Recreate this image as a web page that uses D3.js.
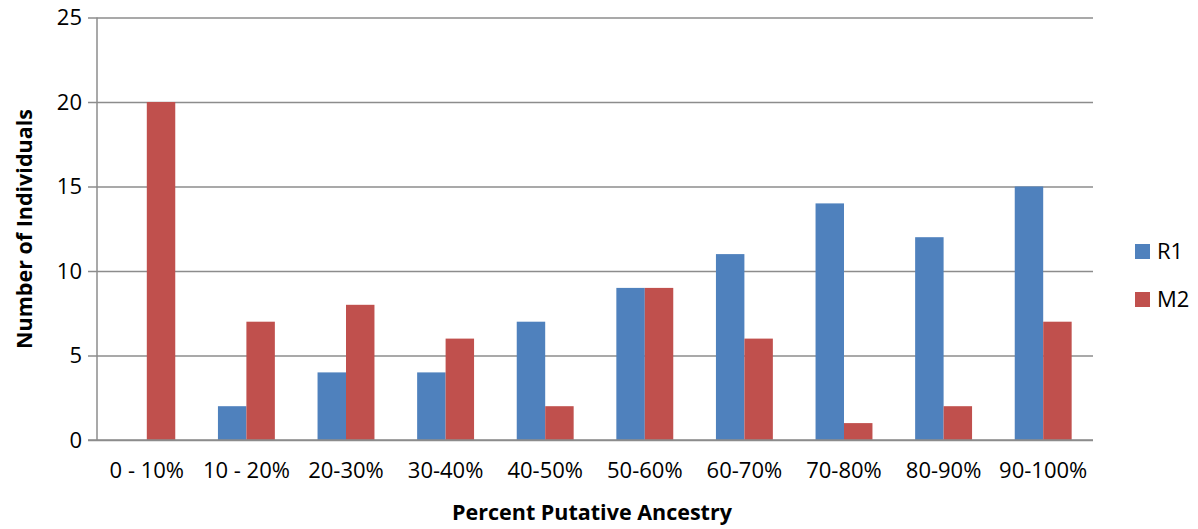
<!DOCTYPE html>
<html>
<head>
<meta charset="utf-8">
<script src="https://cdn.jsdelivr.net/npm/d3@7"></script>
<style>
  html, body { margin: 0; padding: 0; background: #fff; }
  svg { display: block; }
  text { font-family: "Open Sans", "Liberation Sans", sans-serif; fill: #000; }
</style>
</head>
<body>
<svg id="chart" width="1198" height="529"></svg>
<script>
// Ancestry bins and counts per population
const categories = ["0 - 10%", "10 - 20%", "20-30%", "30-40%", "40-50%", "50-60%", "60-70%", "70-80%", "80-90%", "90-100%"];
const seriesNames = ["R1", "M2"];
const r1Values = [0, 2, 4, 4, 7, 9, 11, 14, 12, 15];
const m2Values = [20, 7, 8, 6, 2, 9, 6, 1, 2, 7];
const yTicks = [0, 5, 10, 15, 20, 25];
const colors = ["#4F81BD", "#C0504D"];

const svg = d3.select("#chart");
const plot = { left: 97, right: 1093, top: 17.5, bottom: 440 };

const x = d3.scaleBand().domain(categories).range([plot.left, plot.right]).paddingInner(0).paddingOuter(0);
const xSub = d3.scaleBand().domain(seriesNames).range([0, x.bandwidth()]).paddingOuter(0.75).paddingInner(0);
const y = d3.scaleLinear().domain([0, 25]).range([plot.bottom, plot.top]);

const gridColor = "#8c8c8c";

// horizontal gridlines with left tick marks
const yAxis = d3.axisLeft(y).tickValues(yTicks).tickSize(-(plot.right - plot.left)).tickPadding(15);
const gy = svg.append("g").attr("transform", `translate(${plot.left},0)`).call(yAxis);
gy.select(".domain").remove();
gy.selectAll(".tick line").attr("stroke", gridColor).attr("stroke-width", 1.5).attr("x1", -9);
gy.selectAll(".tick text").attr("font-size", 22).attr("font-family", "Open Sans, Liberation Sans, sans-serif").attr("fill", "#000");

// vertical axis line
svg.append("line")
  .attr("x1", plot.left).attr("x2", plot.left)
  .attr("y1", y(25)).attr("y2", y(0))
  .attr("stroke", gridColor).attr("stroke-width", 1.5);

// bars
const rows = categories.map((c, i) => ({ cat: c, vals: [r1Values[i], m2Values[i]] }));
const groups = svg.append("g").selectAll("g").data(rows).join("g")
  .attr("transform", d => `translate(${x(d.cat)},0)`);
groups.selectAll("rect")
  .data(d => d.vals.map((v, k) => ({ name: seriesNames[k], v, k })))
  .join("rect")
  .attr("x", d => xSub(d.name))
  .attr("width", xSub.bandwidth())
  .attr("y", d => y(d.v))
  .attr("height", d => y(0) - y(d.v))
  .attr("fill", d => colors[d.k]);

// redraw baseline over bars
svg.append("line")
  .attr("x1", plot.left - 9).attr("x2", plot.right)
  .attr("y1", y(0)).attr("y2", y(0))
  .attr("stroke", gridColor).attr("stroke-width", 1.5);

// category labels
const xAxis = d3.axisBottom(x).tickSize(0).tickPadding(22);
const gx = svg.append("g").attr("transform", `translate(0,${plot.bottom})`).call(xAxis);
gx.select(".domain").remove();
gx.selectAll(".tick text").attr("font-size", 22).attr("font-family", "Open Sans, Liberation Sans, sans-serif").attr("fill", "#000");

// axis titles
svg.append("text")
  .attr("x", 592)
  .attr("y", 520)
  .attr("text-anchor", "middle")
  .attr("font-size", 21.5)
  .attr("font-weight", "bold")
  .text("Percent Putative Ancestry");

svg.append("text")
  .attr("transform", `translate(32,229) rotate(-90)`)
  .attr("text-anchor", "middle")
  .attr("font-size", 21.5)
  .attr("font-weight", "bold")
  .text("Number of Individuals");

// legend
const legend = svg.append("g").attr("transform", "translate(1135,244)");
const items = legend.selectAll("g").data(seriesNames).join("g")
  .attr("transform", (d, i) => `translate(0,${i * 48})`);
items.append("rect").attr("width", 15).attr("height", 15).attr("fill", (d, i) => colors[i]);
items.append("text").attr("x", 22).attr("y", 7.5).attr("dy", "0.35em")
  .attr("font-size", 22).text(d => d);
</script>
</body>
</html>
